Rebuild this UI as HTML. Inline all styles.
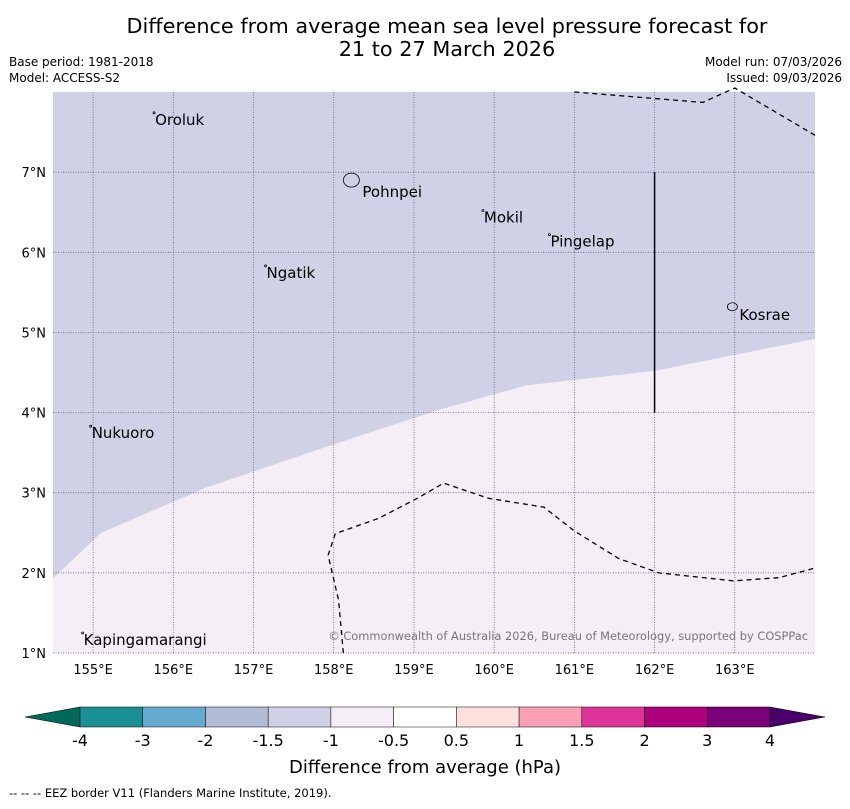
<!DOCTYPE html>
<html><head><meta charset="utf-8"><style>
body{margin:0;background:#fff;width:850px;height:804px;overflow:hidden;font-family:"Liberation Sans","DejaVu Sans",sans-serif}
svg text{font-family:"DejaVu Sans","Liberation Sans",sans-serif}
</style></head><body>
<svg id="chart" width="850" height="804" xmlns="http://www.w3.org/2000/svg">
<text x="447" y="33" font-size="20.8" text-anchor="middle">Difference from average mean sea level pressure forecast for</text>
<text x="447" y="56" font-size="20.8" text-anchor="middle">21 to 27 March 2026</text>
<text x="9" y="66" font-size="12">Base period: 1981-2018</text>
<text x="9" y="82" font-size="12">Model: ACCESS-S2</text>
<text x="842" y="66" font-size="12" text-anchor="end">Model run: 07/03/2026</text>
<text x="842" y="82" font-size="12" text-anchor="end">Issued: 09/03/2026</text>
<g id="map"></g>
<g id="cbar"></g>
<text x="425" y="773" font-size="18" text-anchor="middle">Difference from average (hPa)</text>
<text x="9" y="797" font-size="11.5">--  --  -- EEZ border V11 (Flanders Marine Institute, 2019).</text>
</svg>
<script>
const lonTicks=[155,156,157,158,159,160,161,162,163];
const latTicks=[1,2,3,4,5,6,7];
const boundaryLon=[154.5,155.1,156.4,157.9,159.3,160.4,162.0,164.0];
const boundaryLat=[1.93,2.5,3.06,3.57,4.03,4.34,4.52,4.92];
const eezTopLon=[161.0,162.6,163.0,164.0];
const eezTopLat=[8.0,7.87,8.05,7.46];
const eezBotLon=[158.12,158.06,157.93,158.02,158.56,159.06,159.37,159.93,160.62,160.99,161.55,162.05,162.98,163.55,164.0];
const eezBotLat=[1.0,1.66,2.22,2.49,2.68,2.94,3.12,2.93,2.82,2.53,2.18,2.0,1.9,1.94,2.06];
const placeNames=["Oroluk","Pohnpei","Mokil","Pingelap","Ngatik","Kosrae","Nukuoro","Kapingamarangi"];
const placeLon=[155.76,158.22,159.86,160.69,157.15,162.97,154.97,154.87];
const placeLat=[7.74,6.9,6.52,6.22,5.83,5.32,3.83,1.25];
const cbLevels=["-4","-3","-2","-1.5","-1","-0.5","0.5","1","1.5","2","3","4"];
const cbColors=["#1a8f94","#67aad0","#b2bbd5","#d0d1e6","#f5eef6","#ffffff","#fde0dd","#fa9fb5","#dd3497","#ae017e","#7a0177"];
const NS="http://www.w3.org/2000/svg";
const X0=53,X1=815,Y0=92,Y1=653,LON0=154.5,LON1=164.0,LAT0=1.0,LAT1=8.0;
const xs=l=>X0+(l-LON0)/(LON1-LON0)*(X1-X0);
const ys=l=>Y1-(l-LAT0)/(LAT1-LAT0)*(Y1-Y0);
function mk(t,a,p){const e=document.createElementNS(NS,t);for(const k in a)e.setAttribute(k,a[k]);p.appendChild(e);return e;}
const map=document.getElementById('map');
const bg=mk('rect',{x:X0,y:Y0,width:X1-X0,height:Y1-Y0,fill:'#d0d1e6'},map);


let d=`M${xs(boundaryLon[0])},${ys(boundaryLat[0])}`;
for(let i=1;i<boundaryLon.length;i++)d+=` L${xs(boundaryLon[i])},${ys(boundaryLat[i])}`;
d+=` L${X1},${Y1} L${X0},${Y1} Z`;
const low=mk('path',{d:d,fill:'#f5eef6'},map);


lonTicks.forEach(l=>{const g=mk('line',{x1:xs(l),x2:xs(l),y1:Y0,y2:Y1,stroke:'#4a4f78','stroke-width':0.7,'stroke-dasharray':'1,1.5'},map);

const t=mk('text',{x:xs(l),y:674,'font-size':13,'text-anchor':'middle'},map);t.textContent=l+'°E';
});
latTicks.forEach(l=>{const g=mk('line',{x1:X0,x2:X1,y1:ys(l),y2:ys(l),stroke:'#4a4f78','stroke-width':0.7,'stroke-dasharray':'1,1.5'},map);

const t=mk('text',{x:46,y:ys(l)+5,'font-size':13,'text-anchor':'end'},map);t.textContent=l+'°N';
});
function line(lo,la,name){let p='';lo.forEach((v,i)=>p+=(i?' L':'M')+xs(v)+','+ys(la[i]));
const e=mk('path',{d:p,fill:'none',stroke:'#000','stroke-width':1.3,'stroke-dasharray':'5,4'},map);
}
line(eezTopLon,eezTopLat,'eez-border-north');
line(eezBotLon,eezBotLat,'eez-border-south');
const vl=mk('line',{x1:xs(162),x2:xs(162),y1:ys(7),y2:ys(4),stroke:'#000','stroke-width':1.5},map);

placeNames.forEach((n,i)=>{const x=xs(placeLon[i]),y=ys(placeLat[i]);
const isl=(n==='Pohnpei'||n==='Kosrae');
const m=mk('ellipse',{cx:x,cy:y,rx:isl?(n==='Pohnpei'?8:5):1,ry:isl?(n==='Pohnpei'?7:4):1,fill:'none',stroke:'#000','stroke-width':0.8},map);

const t=mk('text',{x:x+(isl?(n==='Pohnpei'?11:7):1),y:y+(isl?(n==='Pohnpei'?17:13):12),'font-size':15},map);t.textContent=n;
});
const cr=mk('text',{x:808,y:640,'font-size':11.4,fill:'#777','text-anchor':'end'},map);
cr.textContent='© Commonwealth of Australia 2026, Bureau of Meteorology, supported by COSPPac';

const cb=document.getElementById('cbar');
const CX0=80,CX1=770,CY=707,CH=20,n=cbColors.length,w=(CX1-CX0)/n;
const lt=mk('polygon',{points:`${CX0},${CY} ${CX0},${CY+CH} 25,${CY+CH/2}`,fill:'#00695c',stroke:'#000','stroke-width':0.5},cb);

const rt=mk('polygon',{points:`${CX1},${CY} ${CX1},${CY+CH} 825,${CY+CH/2}`,fill:'#49006a',stroke:'#000','stroke-width':0.5},cb);

cbColors.forEach((c,i)=>{const r=mk('rect',{x:CX0+i*w,y:CY,width:w,height:CH,fill:c,stroke:'#000','stroke-width':0.5},cb);
});
cbLevels.forEach((v,i)=>{const t=mk('text',{x:CX0+i*w,y:746,'font-size':16,'text-anchor':'middle'},cb);t.textContent=v;
});
</script>
</body></html>
